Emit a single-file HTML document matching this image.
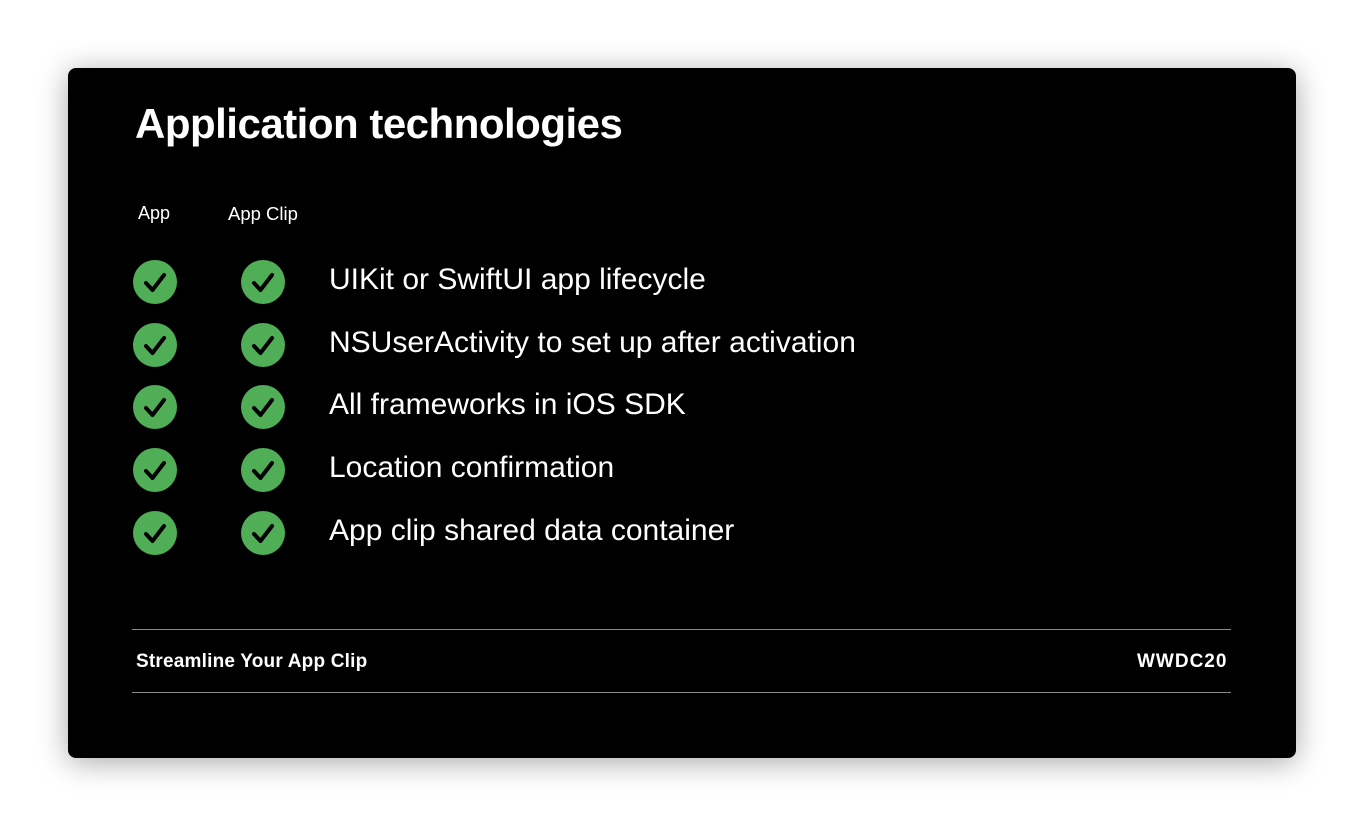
<!DOCTYPE html>
<html><head><style>
body{margin:0;width:1364px;height:826px;background:#fff;overflow:hidden;font-family:"Liberation Sans",sans-serif;}
.card{position:absolute;left:68px;top:68px;width:1228px;height:690px;background:#000;border-radius:8px;box-shadow:0 4px 30px rgba(0,0,0,0.35);}
.t{position:absolute;color:#fff;white-space:nowrap;}
.i{font-size:30px;}
.c{position:absolute;width:44px;height:44px;border-radius:50%;background:#4fae56;}
.c svg{position:absolute;left:0;top:0}
.hr{position:absolute;left:132px;width:1099px;height:1px;background:#8a8a8a;}
</style></head><body>
<div class="card"></div>
<div class="t" style="left:135px;top:100px;font-size:42px;font-weight:bold;letter-spacing:-0.5px">Application technologies</div>
<div class="t" style="left:138px;top:203px;font-size:18px">App</div>
<div class="t" style="left:228px;top:203px;font-size:18.5px">App Clip</div>

<div class="hr" style="top:629px"></div>
<div class="hr" style="top:692px"></div>
<div class="t" style="left:136px;top:651px;font-size:19px;font-weight:bold;letter-spacing:0.2px">Streamline Your App Clip</div>
<div class="t" style="left:1137px;top:651px;font-size:19px;font-weight:bold;letter-spacing:1px">WWDC20</div>

<div class="c" style="left:133px;top:260px"><svg width="44" height="44"><path d="M13 23 L19.5 30 L31 15" stroke="#000" stroke-width="4" fill="none" stroke-linecap="round" stroke-linejoin="round"/></svg></div>
<div class="c" style="left:241px;top:260px"><svg width="44" height="44"><path d="M13 23 L19.5 30 L31 15" stroke="#000" stroke-width="4" fill="none" stroke-linecap="round" stroke-linejoin="round"/></svg></div>
<div class="t i" style="left:329px;top:263px">UIKit or SwiftUI app lifecycle</div>

<div class="c" style="left:133px;top:323px"><svg width="44" height="44"><path d="M13 23 L19.5 30 L31 15" stroke="#000" stroke-width="4" fill="none" stroke-linecap="round" stroke-linejoin="round"/></svg></div>
<div class="c" style="left:241px;top:323px"><svg width="44" height="44"><path d="M13 23 L19.5 30 L31 15" stroke="#000" stroke-width="4" fill="none" stroke-linecap="round" stroke-linejoin="round"/></svg></div>
<div class="t i" style="left:329px;top:326px">NSUserActivity to set up after activation</div>

<div class="c" style="left:133px;top:385px"><svg width="44" height="44"><path d="M13 23 L19.5 30 L31 15" stroke="#000" stroke-width="4" fill="none" stroke-linecap="round" stroke-linejoin="round"/></svg></div>
<div class="c" style="left:241px;top:385px"><svg width="44" height="44"><path d="M13 23 L19.5 30 L31 15" stroke="#000" stroke-width="4" fill="none" stroke-linecap="round" stroke-linejoin="round"/></svg></div>
<div class="t i" style="left:329px;top:388px">All frameworks in iOS SDK</div>

<div class="c" style="left:133px;top:448px"><svg width="44" height="44"><path d="M13 23 L19.5 30 L31 15" stroke="#000" stroke-width="4" fill="none" stroke-linecap="round" stroke-linejoin="round"/></svg></div>
<div class="c" style="left:241px;top:448px"><svg width="44" height="44"><path d="M13 23 L19.5 30 L31 15" stroke="#000" stroke-width="4" fill="none" stroke-linecap="round" stroke-linejoin="round"/></svg></div>
<div class="t i" style="left:329px;top:451px">Location confirmation</div>

<div class="c" style="left:133px;top:511px"><svg width="44" height="44"><path d="M13 23 L19.5 30 L31 15" stroke="#000" stroke-width="4" fill="none" stroke-linecap="round" stroke-linejoin="round"/></svg></div>
<div class="c" style="left:241px;top:511px"><svg width="44" height="44"><path d="M13 23 L19.5 30 L31 15" stroke="#000" stroke-width="4" fill="none" stroke-linecap="round" stroke-linejoin="round"/></svg></div>
<div class="t i" style="left:329px;top:514px">App clip shared data container</div>
</body></html>
